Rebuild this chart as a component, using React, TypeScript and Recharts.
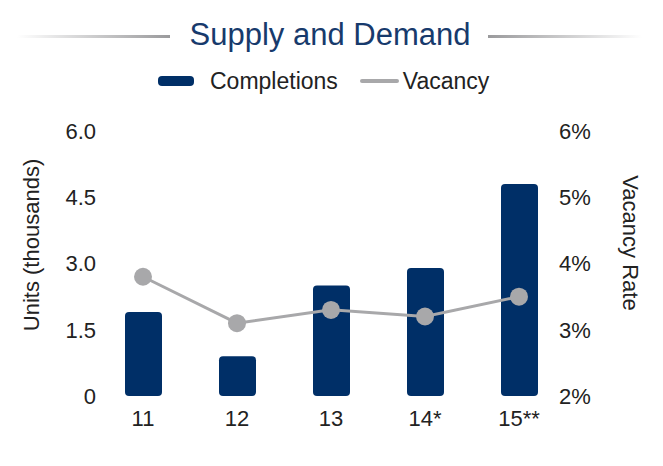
import React from 'react';
import { ComposedChart, Bar, Line, XAxis, YAxis } from 'recharts';

const years = ['11', '12', '13', '14*', '15**'];
const completions = [1.9, 0.9, 2.5, 2.9, 4.8];
const vacancy = [3.8, 3.1, 3.3, 3.2, 3.5];
const leftTicks = [0, 1.5, 3, 4.5, 6];
const rightTicks = [2, 3, 4, 5, 6];

const data = years.map((year, i) => ({ year, completions: completions[i], vacancy: vacancy[i] }));

const NAVY = '#002f67';
const GRAY = '#a8a8aa';
const TEXT = '#222222';
const FONT = '"Liberation Sans", Arial, Helvetica, sans-serif';

const LegendBlock = () => (
  <div style={{ position: 'absolute', left: 0, top: 67, display: 'flex', alignItems: 'center', fontFamily: FONT, fontSize: 23, color: TEXT, whiteSpace: 'nowrap', lineHeight: '28px' }}>
    <svg width={36} height={10} style={{ marginLeft: 158, marginRight: 16 }}>
      <rect x={0} y={0} width={36} height={10} rx={4} ry={4} fill={NAVY} />
    </svg>
    <span>Completions</span>
    <svg width={39} height={10} style={{ marginLeft: 22, marginRight: 4 }}>
      <rect x={0} y={3} width={39} height={4} rx={2} fill={GRAY} />
    </svg>
    <span>Vacancy</span>
  </div>
);

export default function App() {
  return (
    <div style={{ position: 'absolute', left: 0, top: 0, width: 663, height: 466, background: '#fff', fontFamily: FONT }}>
      <svg width={663} height={60} style={{ position: 'absolute', left: 0, top: 0 }}>
        <defs>
          <linearGradient id="lg" x1="0" x2="1" y1="0" y2="0">
            <stop offset="0" stopColor="#ffffff" />
            <stop offset="1" stopColor="#9a9a9c" />
          </linearGradient>
          <linearGradient id="rg" x1="0" x2="1" y1="0" y2="0">
            <stop offset="0" stopColor="#9a9a9c" />
            <stop offset="1" stopColor="#ffffff" />
          </linearGradient>
        </defs>
        <rect x={17} y={35} width={153} height={3} fill="url(#lg)" />
        <rect x={488} y={35} width={154} height={3} fill="url(#rg)" />
        <text x={330} y={45} textAnchor="middle" fontSize={31} fill="#173a6c" fontFamily={FONT}>Supply and Demand</text>
      </svg>
      <LegendBlock />
      <div style={{ position: 'absolute', left: 0, top: 0 }}>
        <ComposedChart width={663} height={466} data={data} margin={{ top: 131, right: 0, bottom: 40, left: 0 }}>
          <XAxis dataKey="year" height={30} axisLine={false} tickLine={false} tickSize={0} tickMargin={14}
            tick={{ fill: TEXT, fontSize: 22, fontFamily: FONT }} />
          <YAxis yAxisId="left" orientation="left" width={96} domain={[0, 6]} ticks={leftTicks}
            tickFormatter={(v: number) => (v === 0 ? '0' : v.toFixed(1))}
            axisLine={false} tickLine={false} tickSize={0} tickMargin={0}
            tick={{ fill: TEXT, fontSize: 22, fontFamily: FONT }} />
          <YAxis yAxisId="right" orientation="right" width={97} domain={[2, 6]} ticks={rightTicks}
            tickFormatter={(v: number) => `${v}%`}
            axisLine={false} tickLine={false} tickSize={0} tickMargin={0}
            tick={{ fill: TEXT, fontSize: 22, fontFamily: FONT, dx: -7 }} />
          <Bar yAxisId="left" dataKey="completions" name="Completions" fill={NAVY} barSize={37} radius={4} isAnimationActive={false} />
          <Line yAxisId="right" dataKey="vacancy" name="Vacancy" stroke={GRAY} strokeWidth={3}
            dot={{ r: 9, fill: GRAY, stroke: 'none' }} activeDot={false} isAnimationActive={false} />
        </ComposedChart>
      </div>
      <svg width={663} height={466} style={{ position: 'absolute', left: 0, top: 0, pointerEvents: 'none' }}>
        <text x={31} y={245} textAnchor="middle" dominantBaseline="central" fontSize={22} fill={TEXT} fontFamily={FONT}
          transform="rotate(-90 31 245)">Units (thousands)</text>
        <text x={630} y={243} textAnchor="middle" dominantBaseline="central" fontSize={22} fill={TEXT} fontFamily={FONT}
          transform="rotate(90 630 243)">Vacancy Rate</text>
      </svg>
    </div>
  );
}
